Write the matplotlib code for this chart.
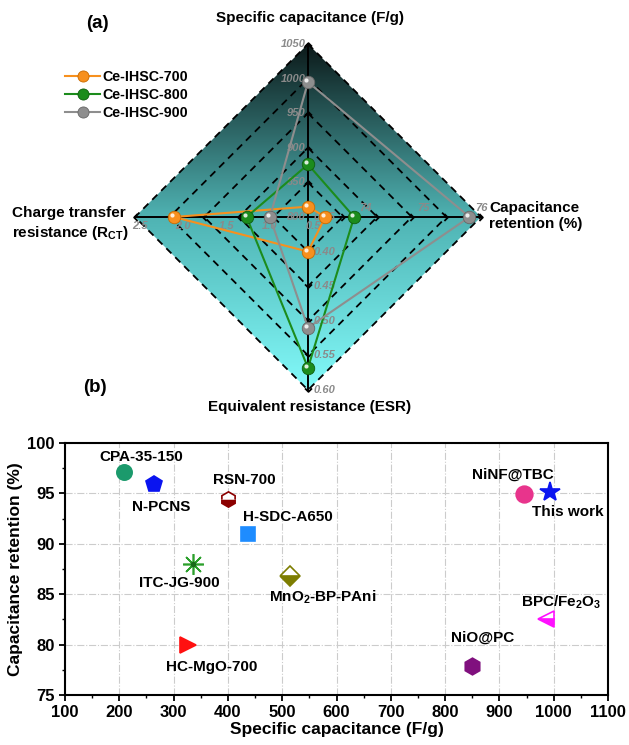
import numpy as np
import matplotlib.pyplot as plt
from matplotlib.path import Path
from matplotlib.patches import Polygon
from matplotlib.lines import Line2D
from matplotlib.colors import LinearSegmentedColormap
from matplotlib.ticker import MultipleLocator

plt.rcParams['font.family'] = ['Liberation Sans', 'DejaVu Sans']
plt.rcParams['font.weight'] = 'bold'
plt.rcParams['axes.labelweight'] = 'bold'
plt.rcParams['mathtext.fontset'] = 'custom'
plt.rcParams['mathtext.bf'] = 'Liberation Sans:bold'
plt.rcParams['mathtext.rm'] = 'Liberation Sans:bold'
plt.rcParams['mathtext.default'] = 'bf'

# ---- (a) radar data ----
samples = ["Ce-IHSC-700", "Ce-IHSC-800", "Ce-IHSC-900"]
cap_vals = [815, 876, 995]          # specific capacitance (F/g), top
ret_vals = [73.3, 73.8, 75.8]       # capacitance retention (%), right
esr_vals = [0.40, 0.568, 0.51]      # ESR, bottom
rct_vals = [2.05, 1.21, 0.94]       # R_CT, left
cap_ticks = [800, 850, 900, 950, 1000, 1050]
ret_ticks = [73, 74, 75, 76]
esr_ticks = [0.35, 0.40, 0.45, 0.50, 0.55, 0.60]
rct_ticks = [0.5, 1.0, 1.5, 2.0, 2.5]

# ---- (b) comparison data ----
materials = ["CPA-35-150", "N-PCNS", "RSN-700", "H-SDC-A650", "ITC-JG-900",
             "MnO$_2$-BP-PAni", "HC-MgO-700", "NiO@PC", "NiNF@TBC",
             "This work", "BPC/Fe$_2$O$_3$"]
spec_cap = [209, 264, 400, 437, 336, 514, 326, 849, 945, 993, 986]
retention = [97.1, 95.9, 94.4, 91.0, 88.0, 86.8, 80.0, 77.9, 94.9, 95.1, 82.5]

series_colors = ["#f7901e", "#1c8c1c", "#8e8e8e"]
series_edges = ["#c86a00", "#0e5e0e", "#666666"]

W, H = 629, 745
fig = plt.figure(figsize=(W / 100, H / 100), dpi=100)

# radar axes: top 440 px of the figure, 1 unit = R px
R = 173.0
cx, cy = 308, 217          # centre in image pixels
top_h = 440
axr = fig.add_axes([0, 1 - top_h / H, 1, top_h / H])
axr.set_xlim(-cx / R, (W - cx) / R)
axr.set_ylim(-(top_h - cy) / R, cy / R)
axr.axis('off')

dirs = np.array([[0, 1], [1, 0], [0, -1], [-1, 0]], dtype=float)
diamond = dirs.copy()

# gradient background clipped to the diamond
cmap = LinearSegmentedColormap.from_list("bg", ["#82fafa", "#4fb3b3", "#0c1a1a"])
grad = np.linspace(0, 1, 256).reshape(-1, 1)
clip = Polygon(diamond, closed=True, facecolor='none', edgecolor='none',
               transform=axr.transData)
axr.add_patch(clip)
im = axr.imshow(grad, extent=(-1, 1, -1, 1), origin='lower', aspect='auto',
                cmap=cmap, zorder=0, interpolation='bilinear')
im.set_clip_path(clip)

# dashed rings
for k in range(1, 6):
    r = k / 5
    ring = np.vstack([diamond * r, diamond[:1] * r])
    axr.plot(ring[:, 0], ring[:, 1], color='black', lw=1.3,
             linestyle=(0, (4, 3)), zorder=1)

# axis lines
axr.plot([0, 0], [-1, 1], color='black', lw=1.4, zorder=2)
axr.plot([-1, 1], [0, 0], color='black', lw=1.4, zorder=2)


def chevron(angle):
    base = np.array([[-0.6, 1.0], [0.4, 0.0], [-0.6, -1.0]])
    c, s = np.cos(angle), np.sin(angle)
    rot = base @ np.array([[c, s], [-s, c]])
    return Path(rot, [Path.MOVETO, Path.LINETO, Path.LINETO])


for d in dirs:
    ang = np.arctan2(d[1], d[0])
    rs = np.arange(1, 6) / 5
    axr.plot(d[0] * rs, d[1] * rs, linestyle='none', marker=chevron(ang),
             markersize=5, markerfacecolor='none', markeredgecolor='black',
             markeredgewidth=1.3, zorder=2)

tick_kw = dict(color='#8a8a8a', fontsize=8, style='italic', weight='bold', zorder=3)


def frac(v, ticks):
    return (v - ticks[0]) / (ticks[-1] - ticks[0])


for v in cap_ticks:
    axr.text(-0.015, frac(v, cap_ticks), f"{v}", ha='right', va='center', **tick_kw)
for v in ret_ticks:
    axr.text(frac(v, ret_ticks), 0.025, f"{v}", ha='center', va='bottom', **tick_kw)
for v in esr_ticks:
    axr.text(0.03, -frac(v, esr_ticks), f"{v:.2f}", ha='left', va='center', **tick_kw)
for v in rct_ticks:
    axr.text(-frac(v, rct_ticks) + 0.03, -0.025, f"{v:.1f}", ha='center', va='top', **tick_kw)

for i, name in enumerate(samples):
    rs = [frac(cap_vals[i], cap_ticks), frac(ret_vals[i], ret_ticks),
          frac(esr_vals[i], esr_ticks), frac(rct_vals[i], rct_ticks)]
    pts = dirs * np.array(rs)[:, None]
    closed = np.vstack([pts, pts[:1]])
    axr.plot(closed[:, 0], closed[:, 1], color=series_colors[i], lw=1.5, zorder=4)
    axr.plot(pts[:, 0], pts[:, 1], 'o', color=series_colors[i],
             markeredgecolor=series_edges[i], markeredgewidth=0.6,
             markersize=9, zorder=5)
    axr.plot(pts[:, 0] - 0.012, pts[:, 1] + 0.012, 'o', color='white',
             markeredgewidth=0, markersize=3, alpha=0.85, zorder=6)

handles = [Line2D([], [], color=series_colors[i], lw=1.5, marker='o', markersize=8,
                  markeredgecolor=series_edges[i], markeredgewidth=0.6)
           for i in range(len(samples))]
fig.legend(handles, samples, loc='upper left', bbox_to_anchor=(0.095, 0.9135),
           frameon=False, fontsize=10.3, handlelength=2.4, handletextpad=0.15,
           labelspacing=0.27, borderaxespad=0)

fig.text(97 / W, 1 - 23 / H, "(a)", fontsize=13.5, ha='center', va='center')
fig.text(310 / W, 1 - 18 / H, "Specific capacitance (F/g)", fontsize=11,
         ha='center', va='center')
fig.text(310 / W, 1 - 407 / H, "Equivalent resistance (ESR)", fontsize=11,
         ha='center', va='center')
fig.text(12 / W, 1 - 224 / H, "Charge transfer\nresistance (R$_{CT}$)", fontsize=11,
         ha='left', va='center', linespacing=1.25)
fig.text(489 / W, 1 - 216 / H, "Capacitance\nretention (%)", fontsize=11,
         ha='left', va='center', linespacing=1.25)
fig.text(95 / W, 1 - 388 / H, "(b)", fontsize=13.5, ha='center', va='center')

# ---- (b) scatter ----
ax = fig.add_axes([65 / W, 50 / H, 543 / W, 252 / H])
styles = [
    dict(marker='o', color='#1b9a6c', ms=11),
    dict(marker='p', color='#0a14f0', ms=12),
    dict(marker='h', color='#8b0000', ms=11, fillstyle='bottom'),
    dict(marker='s', color='#1e8cff', ms=10),
    dict(marker=(8, 2, 0), color='#2ca02c', ms=15),
    dict(marker='D', color='#7d7d00', ms=10, fillstyle='bottom'),
    dict(marker='>', color='#ff1010', ms=12),
    dict(marker='h', color='#80107e', ms=12),
    dict(marker='o', color='#e8348c', ms=12),
    dict(marker='*', color='#0a14f0', ms=15),
    dict(marker='<', color='#ff10ff', ms=12, fillstyle='bottom'),
]
label_offsets = [(12, 11), (5, -16), (12, 14), (29, 12), (-10, -14), (24, -15),
                 (17, -16), (8, 20), (-8, 14), (13, -14), (11, 12)]

for i, name in enumerate(materials):
    st = styles[i]
    fs = st.get('fillstyle', 'full')
    ax.plot(spec_cap[i], retention[i], linestyle='none', marker=st['marker'],
            markersize=st['ms'], color=st['color'], markeredgecolor=st['color'],
            fillstyle=fs, markerfacecoloralt='white', markeredgewidth=1.2,
            zorder=3)
    if i == 4:
        ax.plot(spec_cap[i], retention[i], 'o', color='#1a6a1a', markersize=3, zorder=4)
    ax.annotate(name, (spec_cap[i], retention[i]), xytext=label_offsets[i],
                textcoords='offset points', ha='center', va='center', fontsize=11)

ax.set_xlim(100, 1100)
ax.set_ylim(75, 100)
ax.xaxis.set_major_locator(MultipleLocator(100))
ax.xaxis.set_minor_locator(MultipleLocator(50))
ax.yaxis.set_major_locator(MultipleLocator(5))
ax.yaxis.set_minor_locator(MultipleLocator(2.5))
ax.tick_params(which='major', direction='out', length=4, width=1.3, labelsize=12)
ax.tick_params(which='minor', direction='out', length=2.5, width=1.0)
for lab in ax.get_xticklabels() + ax.get_yticklabels():
    lab.set_fontweight('bold')
for sp in ax.spines.values():
    sp.set_linewidth(1.5)
ax.grid(True, which='major', color='#cccccc', linestyle='-.', lw=0.8)
ax.set_axisbelow(True)
ax.set_xlabel("Specific capacitance (F/g)", fontsize=12.5, labelpad=1)
ax.set_ylabel("Capacitance retention (%)", fontsize=12.5, labelpad=3)

fig.savefig("out.png", dpi=100)
